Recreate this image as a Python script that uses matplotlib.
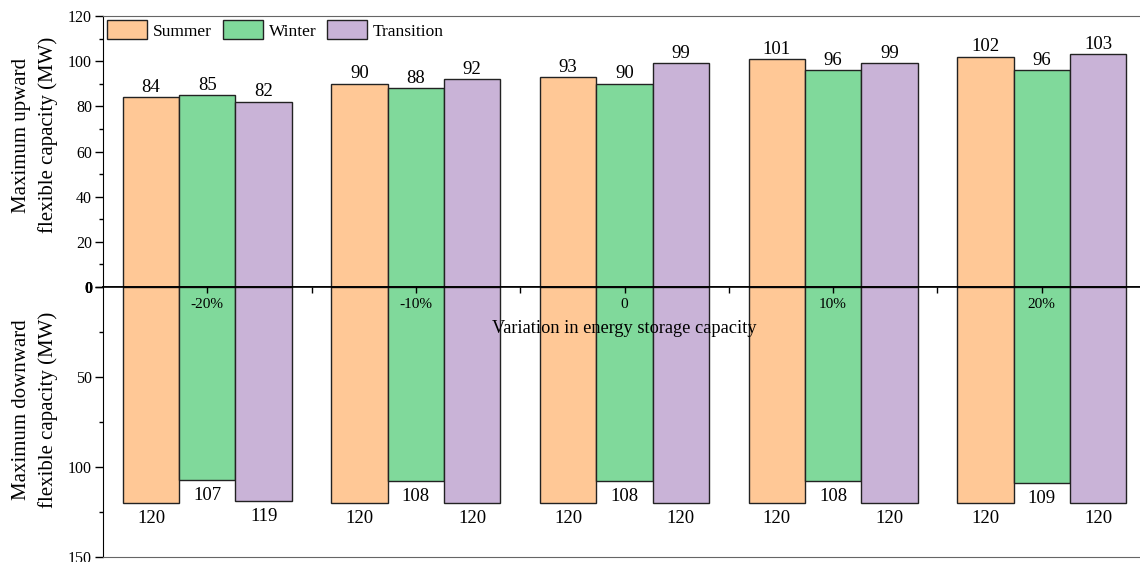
import numpy as np
import matplotlib
matplotlib.use("Agg")
import matplotlib.pyplot as plt
from matplotlib.ticker import MultipleLocator

plt.rcParams['font.family'] = ['Liberation Serif', 'DejaVu Serif']

groups = ['-20%', '-10%', '0', '10%', '20%']
seasons = ['Summer', 'Winter', 'Transition']
colors = ['#FFC896', '#80D99B', '#C9B3D7']

# upward / downward flexible capacity (MW) per season
up_summer = [84, 90, 93, 101, 102]
up_winter = [85, 88, 90, 96, 96]
up_trans = [82, 92, 99, 99, 103]
down_summer = [120, 120, 120, 120, 120]
down_winter = [107, 108, 108, 108, 109]
down_trans = [119, 120, 120, 120, 120]

up = [up_summer, up_winter, up_trans]
down = [down_summer, down_winter, down_trans]

W, H = 1140, 562
fig = plt.figure(figsize=(W / 100, H / 100), dpi=100)
left, right = 103 / W, 1146 / W
ax_up = fig.add_axes([left, 1 - 287 / H, right - left, 271 / H])
ax_lo = fig.add_axes([left, 1 - 557 / H, right - left, 270 / H])

x = np.arange(1, len(groups) + 1)
bw = 0.27
edge = '#222222'

for i, s in enumerate(seasons):
    xs = x + (i - 1) * bw
    b1 = ax_up.bar(xs, up[i], bw, color=colors[i], edgecolor=edge, linewidth=1, label=s)
    ax_up.bar_label(b1, padding=1, fontsize=13.5)
    ax_lo.bar(xs, down[i], bw, color=colors[i], edgecolor=edge, linewidth=1)
    # labels hang below the bar ends (axis is inverted)
    for xi, v in zip(xs, down[i]):
        ax_lo.annotate(str(v), (xi, v), xytext=(0, -5), textcoords='offset points',
                       ha='center', va='top', fontsize=13.5)

for ax in (ax_up, ax_lo):
    ax.set_xlim(0.5, 5.5)
    ax.spines['right'].set_visible(False)
    ax.tick_params(axis='y', which='major', direction='out', length=6, pad=2, labelsize=11.5, width=1)
    ax.tick_params(axis='y', which='minor', direction='out', length=3, width=1)

# upper panel
ax_up.set_ylim(0, 120)
ax_up.yaxis.set_major_locator(MultipleLocator(20))
ax_up.yaxis.set_minor_locator(MultipleLocator(10))
ax_up.set_xticks([])
ax_up.spines['top'].set_color('#666666')
ax_up.spines['bottom'].set_linewidth(1.2)
ax_up.set_ylabel('Maximum upward\nflexible capacity (MW)', fontsize=15, linespacing=1.5)
ax_up.yaxis.set_label_coords(-0.043, 0.56)
ax_up.legend(loc='upper left', ncol=3, frameon=False, fontsize=12.5,
             handlelength=2.3, handleheight=1.3, handletextpad=0.35,
             columnspacing=0.6, borderaxespad=0.15, borderpad=0.1)

# lower panel, inverted
ax_lo.set_ylim(150, 0)
ax_lo.yaxis.set_major_locator(MultipleLocator(50))
ax_lo.yaxis.set_minor_locator(MultipleLocator(25))
ax_lo.spines['bottom'].set_color('#666666')
ax_lo.spines['top'].set_linewidth(1.2)
ax_lo.set_ylabel('Maximum downward\nflexible capacity (MW)', fontsize=15, linespacing=1.5)
ax_lo.yaxis.set_label_coords(-0.043, 0.545)

fig.canvas.draw()
for ax in (ax_up, ax_lo):
    for t in ax.get_yticklabels():
        if t.get_text() == '0':
            t.set_fontweight('bold')

ax_lo.set_xticks(x)
ax_lo.set_xticklabels(groups)
ax_lo.set_xticks(x[:-1] + 0.5, minor=True)
ax_lo.tick_params(axis='x', which='both', top=True, bottom=False, labeltop=True,
                  labelbottom=False, direction='in', length=4, width=1)
ax_lo.tick_params(axis='x', which='major', labelsize=11, pad=-17)
for t in ax_lo.get_xticklabels():
    t.set_zorder(5)

ax_lo.text(3, 0.845, 'Variation in energy storage capacity', fontsize=13.2,
           ha='center', va='center', zorder=6,
           transform=ax_lo.get_xaxis_transform())

fig.savefig('out.png', dpi=100)
